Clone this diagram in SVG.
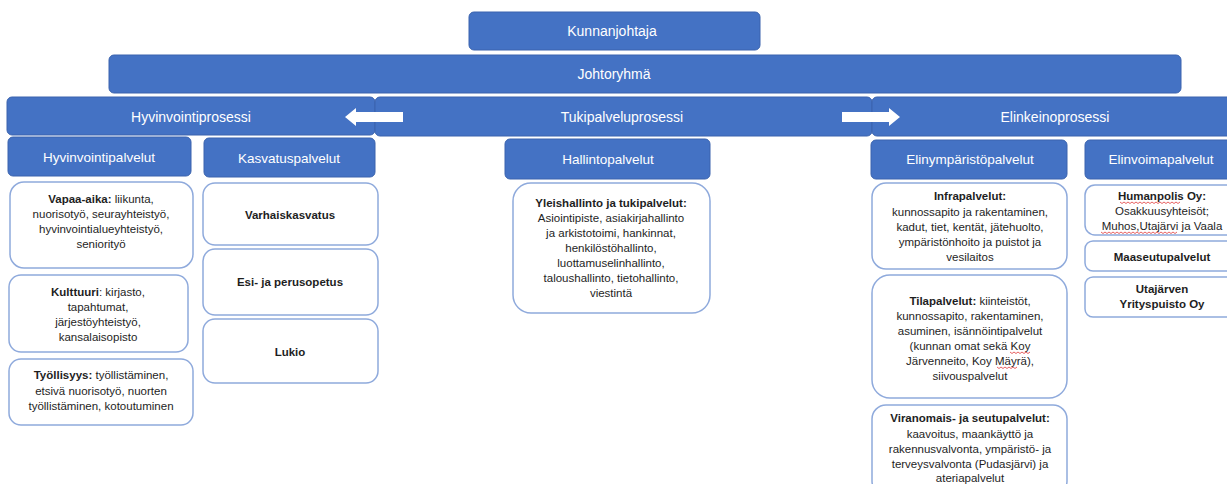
<svg xmlns="http://www.w3.org/2000/svg" width="1227" height="484" viewBox="0 0 1227 484">
<style>
.hb{fill:#4472C4;stroke:#3A63AE;stroke-width:1}
.ht{fill:#fff;font-family:"Liberation Sans",Arial,sans-serif;font-size:14px;text-anchor:middle;dominant-baseline:central}
.st{font-size:13.5px}
.wb{fill:#fff;stroke:#8FAADC;stroke-width:1.5}
.bt{fill:#1e1e1e;font-family:"Liberation Sans",Arial,sans-serif;font-size:11.5px;text-anchor:middle;dominant-baseline:central}
.b{font-weight:bold}
.arr{fill:#fff}
.sq{fill:none;stroke:#E23A3A;stroke-width:0.8}
</style>
<rect width="1227" height="484" fill="#fff"/>

<g id="kunnanjohtaja"><rect class="hb" x="469" y="12" width="291" height="38" rx="5"/><text class="ht" x="612" y="31">Kunnanjohtaja</text></g>
<g id="johtoryhma"><rect class="hb" x="109" y="55" width="1072" height="38" rx="5"/><text class="ht" x="614" y="74">Johtoryhmä</text></g>
<g id="hyvinvointiprosessi"><rect class="hb" x="7" y="97" width="368" height="38" rx="5"/><text class="ht" x="191" y="117">Hyvinvointiprosessi</text></g>
<g id="tukipalveluprosessi"><rect class="hb" x="375" y="97" width="497" height="39" rx="5"/><text class="ht" x="622" y="117">Tukipalveluprosessi</text></g>
<g id="elinkeinoprosessi"><rect class="hb" x="872" y="97" width="365" height="39" rx="5"/><text class="ht" x="1055" y="117">Elinkeinoprosessi</text></g>

<g id="hyvinvointipalvelut"><rect class="hb" x="8" y="137" width="183" height="39" rx="5"/><text class="ht st" x="99" y="157">Hyvinvointipalvelut</text></g>
<g id="kasvatuspalvelut"><rect class="hb" x="204" y="138" width="171" height="39" rx="5"/><text class="ht st" x="289" y="158">Kasvatuspalvelut</text></g>
<g id="hallintopalvelut"><rect class="hb" x="505" y="139" width="205" height="40" rx="5"/><text class="ht st" x="608" y="159">Hallintopalvelut</text></g>
<g id="elinymparistopalvelut"><rect class="hb" x="871" y="140" width="196" height="39" rx="5"/><text class="ht st" x="970" y="159">Elinympäristöpalvelut</text></g>
<g id="elinvoimapalvelut"><rect class="hb" x="1085" y="140" width="155" height="39" rx="5"/><text class="ht st" x="1161" y="159">Elinvoimapalvelut</text></g>

<g id="vapaa-aika"><rect class="wb" x="10" y="182" width="183" height="86" rx="14"/>
<text class="bt" x="101" y="199"><tspan class="b">Vapaa-aika:</tspan> liikunta,</text>
<text class="bt" x="101" y="214">nuorisotyö, seurayhteistyö,</text>
<text class="bt" x="101" y="229">hyvinvointialueyhteistyö,</text>
<text class="bt" x="101" y="244">seniorityö</text></g>
<g id="kulttuuri"><rect class="wb" x="9" y="275" width="179" height="77" rx="12"/>
<text class="bt" x="98" y="292"><tspan class="b">Kulttuuri</tspan>: kirjasto,</text>
<text class="bt" x="98" y="307">tapahtumat,</text>
<text class="bt" x="98" y="322">järjestöyhteistyö,</text>
<text class="bt" x="98" y="337">kansalaisopisto</text></g>
<g id="tyollisyys"><rect class="wb" x="9" y="359" width="184" height="66" rx="12"/>
<text class="bt" x="101" y="375"><tspan class="b">Työllisyys:</tspan> työllistäminen,</text>
<text class="bt" x="101" y="391">etsivä nuorisotyö, nuorten</text>
<text class="bt" x="101" y="406">työllistäminen, kotoutuminen</text></g>

<g id="varhaiskasvatus"><rect class="wb" x="203" y="183" width="175" height="62" rx="12"/><text class="bt b" x="290" y="215">Varhaiskasvatus</text></g>
<g id="esi-ja-perusopetus"><rect class="wb" x="203" y="249" width="175" height="66" rx="12"/><text class="bt b" x="290" y="282">Esi- ja perusopetus</text></g>
<g id="lukio"><rect class="wb" x="203" y="319" width="175" height="64" rx="12"/><text class="bt b" x="290" y="352">Lukio</text></g>

<g id="yleishallinto"><rect class="wb" x="513" y="183" width="197" height="130" rx="18"/>
<text class="bt b" x="611" y="203">Yleishallinto ja tukipalvelut:</text>
<text class="bt" x="611" y="218">Asiointipiste, asiakirjahallinto</text>
<text class="bt" x="611" y="233">ja arkistotoimi, hankinnat,</text>
<text class="bt" x="611" y="248">henkilöstöhallinto,</text>
<text class="bt" x="611" y="263">luottamuselinhallinto,</text>
<text class="bt" x="611" y="278">taloushallinto, tietohallinto,</text>
<text class="bt" x="611" y="293">viestintä</text></g>

<g id="infrapalvelut"><rect class="wb" x="872" y="183" width="195" height="86" rx="14"/>
<text class="bt b" x="970" y="196">Infrapalvelut:</text>
<text class="bt" x="970" y="212">kunnossapito ja rakentaminen,</text>
<text class="bt" x="970" y="227">kadut, tiet, kentät, jätehuolto,</text>
<text class="bt" x="970" y="242">ympäristönhoito ja puistot ja</text>
<text class="bt" x="970" y="257">vesilaitos</text></g>
<g id="tilapalvelut"><rect class="wb" x="872" y="275" width="195" height="123" rx="18"/>
<text class="bt" x="970" y="301"><tspan class="b">Tilapalvelut:</tspan> kiinteistöt,</text>
<text class="bt" x="970" y="316">kunnossapito, rakentaminen,</text>
<text class="bt" x="970" y="331">asuminen, isännöintipalvelut</text>
<text class="bt" x="970" y="346">(kunnan omat sekä Koy</text>
<text class="bt" x="970" y="361">Järvenneito, Koy Mäyrä),</text>
<text class="bt" x="970" y="376">siivouspalvelut</text>
<path class="sq" d="M1010,352 l2,1.5 2,-1.5 2,1.5 2,-1.5 2,1.5 2,-1.5 2,1.5 2,-1.5 2,1.5 2,-1.5"/>
<path class="sq" d="M997,367 l2,1.5 2,-1.5 2,1.5 2,-1.5 2,1.5 2,-1.5 2,1.5 2,-1.5 2,1.5 2,-1.5"/></g>
<g id="viranomais"><rect class="wb" x="872" y="405" width="195" height="90" rx="14"/>
<text class="bt b" x="970" y="418">Viranomais- ja seutupalvelut:</text>
<text class="bt" x="970" y="434">kaavoitus, maankäyttö ja</text>
<text class="bt" x="970" y="449">rakennusvalvonta, ympäristö- ja</text>
<text class="bt" x="970" y="464">terveysvalvonta (Pudasjärvi) ja</text>
<text class="bt" x="970" y="478">ateriapalvelut</text></g>

<g id="humanpolis"><rect class="wb" x="1085" y="185" width="155" height="50" rx="10"/>
<text class="bt b" x="1162" y="196">Humanpolis Oy:</text>
<text class="bt" x="1162" y="211">Osakkuusyhteisöt;</text>
<text class="bt" x="1162" y="226">Muhos,Utajärvi ja Vaala</text>
<path class="sq" d="M1120,202 l2,1.5 2,-1.5 2,1.5 2,-1.5 2,1.5 2,-1.5 2,1.5 2,-1.5 2,1.5 2,-1.5 2,1.5 2,-1.5 2,1.5 2,-1.5 2,1.5 2,-1.5 2,1.5 2,-1.5 2,1.5 2,-1.5 2,1.5 2,-1.5 2,1.5 2,-1.5 2,1.5 2,-1.5 2,1.5 2,-1.5 2,1.5 2,-1.5"/>
<path class="sq" d="M1101,232 l2,1.5 2,-1.5 2,1.5 2,-1.5 2,1.5 2,-1.5 2,1.5 2,-1.5 2,1.5 2,-1.5 2,1.5 2,-1.5 2,1.5 2,-1.5 2,1.5 2,-1.5 2,1.5 2,-1.5 2,1.5 2,-1.5 2,1.5 2,-1.5 2,1.5 2,-1.5 2,1.5 2,-1.5 2,1.5 2,-1.5 2,1.5 2,-1.5 2,1.5 2,-1.5 2,1.5 2,-1.5 2,1.5 2,-1.5 2,1.5 2,-1.5"/></g>
<g id="maaseutupalvelut"><rect class="wb" x="1085" y="241" width="155" height="30" rx="8"/><text class="bt b" x="1162" y="257">Maaseutupalvelut</text></g>
<g id="yrityspuisto"><rect class="wb" x="1085" y="277" width="155" height="40" rx="8"/>
<text class="bt b" x="1162" y="289">Utajärven</text>
<text class="bt b" x="1162" y="304">Yrityspuisto Oy</text></g>

<g id="connectors">
<polygon class="arr" points="403,112 356,112 356,108 345,117 356,126 356,122 403,122"/>
<polygon class="arr" points="842,112 889,112 889,108 900,117 889,126 889,122 842,122"/>
</g>
</svg>
